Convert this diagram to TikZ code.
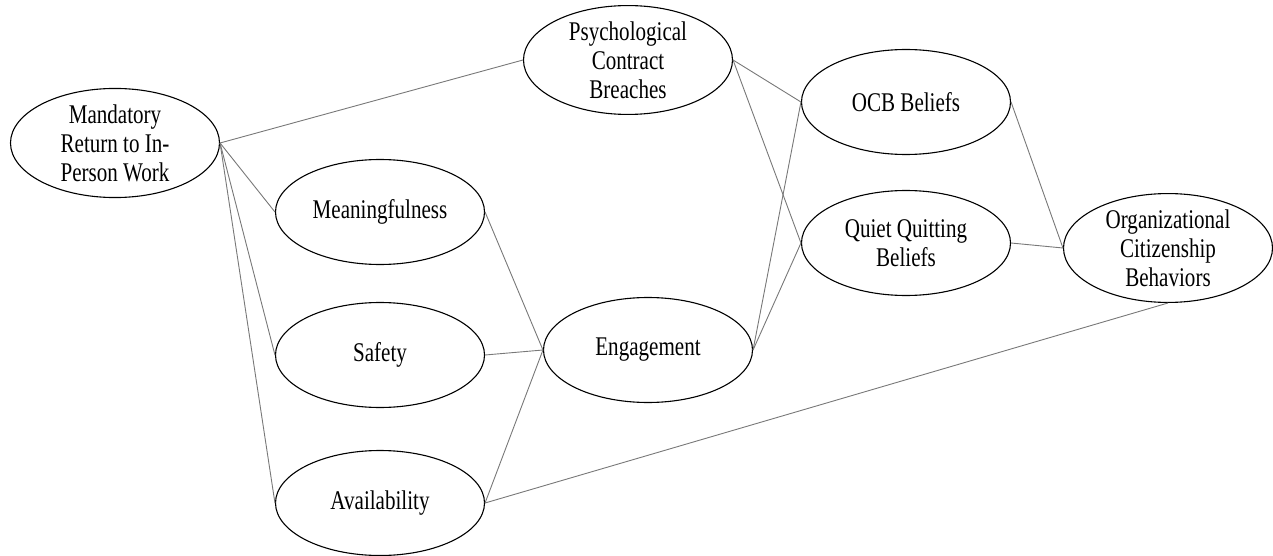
\documentclass[tikz,border=0pt]{standalone}
\usepackage{fontspec}
\setmainfont{Liberation Serif}[FakeStretch=0.78]
\usetikzlibrary{shapes.geometric}
\tikzset{
  construct/.style={ellipse, draw=black, line width=1.1pt, inner sep=0pt,
    minimum width=209pt, minimum height=105pt, align=center,
    font=\fontsize{27}{29}\selectfont},
  link/.style={draw={rgb,255:red,120;green,120;blue,120}, line width=0.9pt}
}
\begin{document}
\begin{tikzpicture}[x=1pt,y=-1pt]
\useasboundingbox (0,0) rectangle (1273,556);
\node[construct] (mand)  at (115,143) {Mandatory\\Return to In-\\Person Work};
\node[construct] (psych) at (628,60)  {Psychological\\Contract\\Breaches};
\node[construct] (mean)  at (380,212) {Meaningfulness};
\node[construct] (safe)  at (380,355) {Safety};
\node[construct] (avail) at (380,503) {Availability};
\node[construct] (eng)   at (648,350) {Engagement};
\node[construct] (ocbb)  at (906,102) {OCB Beliefs};
\node[construct] (qq)    at (906,243) {Quiet Quitting\\Beliefs};
\node[construct] (org)   at (1168,248) {Organizational\\Citizenship\\Behaviors};

\draw[link] (mand.east) -- (psych.west);
\draw[link] (mand.east) -- (mean.west);
\draw[link] (mand.east) -- (safe.west);
\draw[link] (mand.east) -- (avail.west);
\draw[link] (mean.east) -- (eng.west);
\draw[link] (safe.east) -- (eng.west);
\draw[link] (avail.east) -- (eng.west);
\draw[link] (avail.east) -- (org.south);
\draw[link] (psych.east) -- (ocbb.west);
\draw[link] (psych.east) -- (qq.west);
\draw[link] (eng.east) -- (ocbb.west);
\draw[link] (eng.east) -- (qq.west);
\draw[link] (ocbb.east) -- (org.west);
\draw[link] (qq.east) -- (org.west);
\end{tikzpicture}
\end{document}
